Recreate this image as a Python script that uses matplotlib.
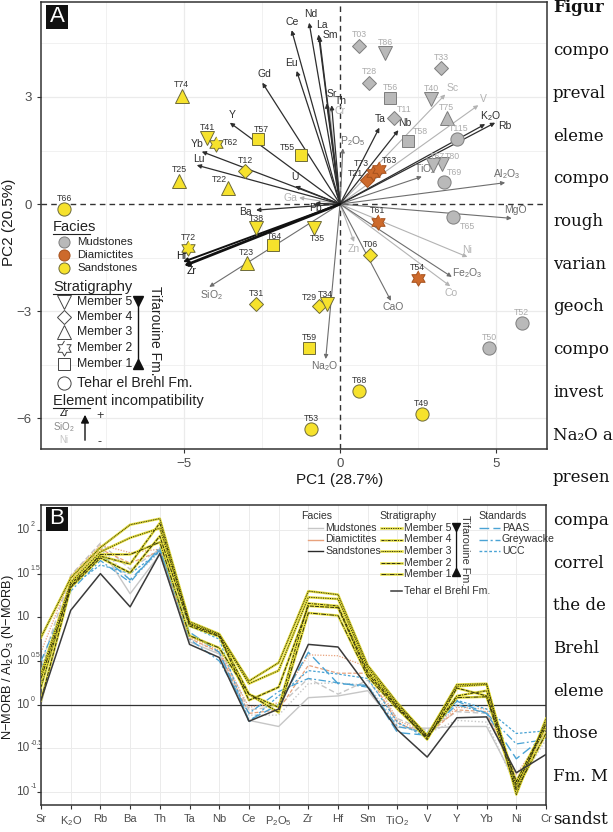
import numpy as np
import matplotlib
matplotlib.use('Agg')
import matplotlib.pyplot as plt
from matplotlib.lines import Line2D
from matplotlib.patches import Rectangle
import matplotlib.transforms as mtransforms

plt.rcParams['font.family'] = ['Liberation Sans', 'DejaVu Sans']
plt.rcParams['mathtext.fontset'] = 'custom'
plt.rcParams['mathtext.rm'] = 'Liberation Sans'
plt.rcParams['mathtext.it'] = 'Liberation Sans:italic'
plt.rcParams['mathtext.bf'] = 'Liberation Sans:bold'

# ---------------- DATA: panel A (PCA scores) ----------------
sample_names = ["T74", "T41", "T62", "T57", "T55", "T12", "T25", "T22", "T66", "T38", "T64",
                "T72", "T23", "T31", "T35", "T29", "T34", "T59", "T53", "T68", "T49", "T06",
                "T54", "T52", "T50", "T61", "T65", "T69", "T115", "T80", "T67", "T58", "T11",
                "T75", "T40", "T56", "T28", "T33", "T03", "T86", "T21", "T73", "T63"]
pc1 = [-5.07, -4.26, -3.97, -2.64, -1.26, -3.04, -5.15, -3.58, -8.84, -2.70, -2.14,
       -4.86, -2.99, -2.69, -0.85, -0.69, -0.41, -0.99, -0.93, 0.62, 2.62, 0.96,
       2.49, 5.82, 4.78, 1.20, 3.63, 3.33, 3.74, 3.26, 2.99, 2.19, 1.73,
       3.42, 2.92, 1.60, 0.93, 3.24, 0.61, 1.44, 0.86, 1.05, 1.26]
pc2 = [3.03, 1.85, 1.68, 1.81, 1.38, 0.92, 0.65, 0.46, -0.14, -0.68, -1.15,
       -1.24, -1.66, -2.80, -0.68, -2.86, -2.80, -4.04, -6.30, -5.24, -5.89, -1.43,
       -2.08, -3.34, -4.04, -0.50, -0.36, 0.61, 1.81, 1.11, 1.09, 1.77, 2.40,
       2.40, 2.93, 2.96, 3.40, 3.80, 4.43, 4.22, 0.67, 0.88, 0.97]
facies = ["S"] * 22 + ["D", "M", "M", "D", "M", "M", "M", "M", "M", "M", "M",
                       "M", "M", "M", "M", "M", "M", "M", "D", "D", "D"]
member = ["3", "5", "2", "1", "1", "4", "3", "3", "T", "5", "1",
          "2", "3", "4", "5", "4", "5", "1", "T", "T", "T", "4",
          "2", "T", "T", "2", "T", "T", "T", "5", "5", "1", "4",
          "3", "5", "1", "4", "4", "4", "5", "4", "2", "2"]

# loadings (arrow tips)
elements = ["Ce", "Nd", "La", "Sm", "Eu", "Gd", "Sr", "Th", "Cr", "P$_2$O$_5$", "Ta", "Nb",
            "Sc", "V", "K$_2$O", "Rb", "TiO$_2$", "Al$_2$O$_3$", "MgO", "Ga", "U", "Pb",
            "Ba", "Y", "Yb", "Lu", "Zr", "Hf", "SiO$_2$", "Zn", "Na$_2$O", "CaO", "Co",
            "Fe$_2$O$_3$", "Ni"]
load1 = [-1.55, -0.99, -0.69, -0.66, -1.39, -2.49, -0.43, -0.27, -0.34, 0.09, 1.26, 1.87,
         3.37, 4.43, 4.65, 4.97, 2.62, 5.29, 5.50, -1.31, -1.44, -0.80,
         -2.69, -3.53, -4.43, -4.59, -5.00, -5.03, -4.19, 0.45, -0.46, 1.63, 3.53,
         3.58, 4.08]
load2 = [4.87, 5.08, 4.75, 4.69, 3.73, 3.40, 2.82, 2.77, 2.71, 1.56, 2.14, 2.07,
         3.07, 2.77, 2.24, 2.28, 0.77, 0.60, -0.40, 0.18, 0.50, 0.02,
         -0.17, 2.28, 1.47, 1.09, -1.73, -1.62, -2.32, -1.06, -4.34, -2.71, -2.30,
         -2.04, -1.48]
# incompatibility class: 0 = most incompatible ... 3 = least
incompat = [1, 1, 1, 1, 1, 1, 1, 1, 3, 2, 1, 1,
            3, 3, 1, 1, 2, 2, 2, 3, 1, 1,
            1, 1, 1, 1, 0, 0, 2, 3, 2, 2, 3,
            2, 3]

# ---------------- DATA: panel B (spider diagram, log10 values) ----------------
spider_cats = ["Sr", "K$_2$O", "Rb", "Ba", "Th", "Ta", "Nb", "Ce", "P$_2$O$_5$", "Zr", "Hf",
               "Sm", "TiO$_2$", "V", "Y", "Yb", "Ni", "Cr"]
ytick_exp = [-1, -0.5, 0, 0.5, 1, 1.5, 2]
ytick_sup = ["-1", "-0.5", "0", "0.5", "", "1.5", "2"]
mud_1 = [0.00, 1.40, 1.80, 1.27, 1.72, 0.72, 0.58, -0.18, -0.25, 0.08, 0.10, 0.16, -0.26, -0.27, -0.25, -0.25, -0.90, -0.33]
mud_2 = [0.28, 1.45, 1.82, 1.42, 1.75, 0.75, 0.60, -0.12, -0.12, 0.24, 0.25, 0.22, -0.22, -0.33, -0.18, -0.20, -0.95, -0.40]
mud_3 = [0.45, 1.48, 1.85, 1.55, 1.78, 0.80, 0.65, -0.06, -0.02, 0.30, 0.12, 0.28, -0.16, -0.30, -0.08, -0.10, -0.86, -0.30]
dia_1 = [0.60, 1.47, 1.83, 1.74, 1.78, 0.78, 0.62, -0.03, 0.02, 0.57, 0.56, 0.43, -0.18, -0.33, -0.03, -0.05, -0.80, -0.30]
dia_2 = [0.35, 1.42, 1.78, 1.62, 1.76, 0.76, 0.60, -0.10, -0.06, 0.45, 0.36, 0.36, -0.21, -0.35, -0.06, -0.08, -0.86, -0.36]
sst_m3 = [0.77, 1.45, 1.80, 2.06, 2.13, 0.95, 0.81, 0.27, 0.48, 1.30, 1.26, 0.45, 0.02, -0.36, 0.23, 0.24, -1.03, -0.16]
sst_m5 = [0.35, 1.40, 1.75, 1.91, 2.02, 0.93, 0.80, 0.24, 0.39, 1.23, 1.21, 0.42, 0.00, -0.35, 0.21, 0.23, -0.95, -0.20]
sst_m4 = [0.20, 1.38, 1.70, 1.61, 2.08, 0.92, 0.79, 0.12, -0.03, 1.16, 1.13, 0.38, -0.02, -0.37, 0.10, 0.16, -0.92, -0.25]
sst_m2 = [0.05, 1.34, 1.68, 1.51, 1.93, 0.90, 0.78, 0.05, 0.20, 1.13, 1.11, 0.35, -0.03, -0.40, 0.19, 0.10, -0.88, -0.22]
sst_m1 = [0.30, 1.35, 1.72, 1.72, 1.86, 0.79, 0.65, 0.12, -0.09, 1.05, 1.02, 0.32, -0.05, -0.38, 0.08, 0.09, -0.98, -0.33]
tehar = [0.05, 1.08, 1.50, 1.12, 1.73, 0.69, 0.54, -0.19, -0.05, 0.69, 0.66, 0.20, -0.29, -0.60, -0.15, -0.14, -0.78, -0.57]
paas = [0.20, 1.35, 1.72, 1.43, 1.77, 0.83, 0.60, -0.18, 0.00, 0.60, 0.24, 0.22, -0.32, -0.35, 0.04, -0.10, -0.62, -0.35]
greywacke = [0.50, 1.30, 1.65, 1.40, 1.80, 0.75, 0.50, -0.10, 0.15, 0.30, 0.25, 0.20, -0.25, -0.32, 0.00, -0.10, -0.45, -0.40]
ucc = [0.40, 1.35, 1.60, 1.50, 1.75, 0.90, 0.75, -0.20, 0.10, 0.39, 0.35, 0.30, -0.20, -0.38, 0.05, -0.05, -0.33, -0.30]

right_text = ["Figur", "compo", "preval", "eleme", "compo", "rough", "varian", "geoch", "compo",
              "invest", "Na\u2082O a", "presen", "compa", "correl", "the de", "Brehl", "eleme",
              "those", "Fm. M", "sandst"]

# ---------------- STYLE ----------------
W, H = 613, 832
fig = plt.figure(figsize=(W / 100, H / 100), dpi=100)


def fx(px):
    return px / W


def fy(py):
    return 1 - py / H


ang_o = np.deg2rad(90 + 60 * np.arange(6))
ang_i = np.deg2rad(120 + 60 * np.arange(6))
HEX = []
for a, b in zip(ang_o, ang_i):
    HEX.append((np.cos(a), np.sin(a)))
    HEX.append((np.cos(b) / np.sqrt(3), np.sin(b) / np.sqrt(3)))

mk = {"5": "v", "4": "D", "3": "^", "2": HEX, "1": "s", "T": "o"}
mk_size = {"5": 9.5, "4": 7.0, "3": 9.5, "2": 11, "1": 8.5, "T": 9.5}
leg_size = {"5": 9.5, "4": 7.5, "3": 9.5, "2": 11, "1": 8.5}
fcol = {"M": "#b9b9b9", "D": "#cd6a2c", "S": "#f6e22c"}
ecol = {"M": "#7d7d7d", "D": "#a6521e", "S": "#6d6a3a"}
lcol = {"M": "#ababab", "D": "#333333", "S": "#333333"}
label_off = {"T62": (14, 2), "T55": (-13, 7), "T35": (4, -10), "T65": (14, -10), "T69": (10, 10),
             "T115": (2, 11), "T58": (12, 9), "T80": (11, 8), "T67": (4, 9), "T11": (10, 9),
             "T73": (-11, 9), "T21": (-11, 7), "T63": (10, 9), "T29": (-9, 9), "T34": (-2, 10),
             "T22": (-9, 8), "T57": (4, 10), "T64": (1, 9), "T38": (1, 10)}
inc_col = {0: "#111111", 1: "#2e2e2e", 2: "#6e6e6e", 3: "#b3b3b3"}
inc_lw = {0: 1.0, 1: 0.9, 2: 0.8, 3: 0.8}
elem_off = [(1, 8), (2, 9), (3, 9), (11, 2), (-5, 8), (2, 9), (5, 9), (9, 4), (11, -4), (10, 7), (1, 9), (6, 7),
            (7, 6), (5, 6), (5, 8), (10, -3), (3, 7), (2, 9), (4, 8), (-9, 0), (0, 9), (0, -5),
            (-11, -2), (2, 8), (-5, 8), (2, 6), (8, -5), (-2, 6), (2, -8), (0, -7), (-1, -7), (2, -6), (1, -7),
            (15, 4), (0, 7)]

grid_c = "#ebebeb"
tick_c = "#4d4d4d"

# ================= PANEL A =================
axA = fig.add_axes([fx(41), fy(449), fx(547) - fx(41), fy(2) - fy(449)])
axA.set_xlim(-9.58, 6.63)
axA.set_ylim(-6.86, 5.66)
for v in [-7.5, -2.5, 2.5]:
    axA.axvline(v, color=grid_c, lw=0.5, zorder=0)
for v in [-5, 5]:
    axA.axvline(v, color=grid_c, lw=0.9, zorder=0)
for v in [-4.5, -1.5, 1.5, 4.5]:
    axA.axhline(v, color=grid_c, lw=0.5, zorder=0)
for v in [-6, -3, 3]:
    axA.axhline(v, color=grid_c, lw=0.9, zorder=0)
axA.axvline(0, color="#333333", lw=1.0, ls=(0, (4, 3)), zorder=1)
axA.axhline(0, color="#333333", lw=1.0, ls=(0, (4, 3)), zorder=1)

# arrows
order = sorted(range(len(elements)), key=lambda i: -incompat[i])
for i in order:
    c = inc_col[incompat[i]]
    lw = inc_lw[incompat[i]]
    if elements[i] == "Zr":
        lw = 2.0
    elif elements[i] == "Hf":
        lw = 1.4
    axA.annotate("", xy=(load1[i], load2[i]), xytext=(0, 0),
                 arrowprops=dict(arrowstyle="-|>", color=c, lw=lw, mutation_scale=6,
                                 shrinkA=0, shrinkB=0), zorder=2)
    axA.annotate(elements[i], xy=(load1[i], load2[i]), xytext=elem_off[i],
                 textcoords="offset pixels", ha="center", va="center", fontsize=7.5,
                 color=c, zorder=3)

# points
for i, nm in enumerate(sample_names):
    f = facies[i]
    m = member[i]
    axA.plot(pc1[i], pc2[i], marker=mk[m], ms=mk_size[m], mfc=fcol[f], mec=ecol[f],
             mew=0.7, ls="none", zorder=4)
    off = label_off.get(nm, (0, 11))
    axA.annotate(nm, xy=(pc1[i], pc2[i]), xytext=off, textcoords="offset pixels",
                 ha="center", va="center", fontsize=6.3, color=lcol[f], zorder=5)

axA.set_xticks([-5, 0, 5])
axA.set_xticklabels(["\u22125", "0", "5"])
axA.set_yticks([-6, -3, 0, 3])
axA.set_yticklabels(["\u22126", "\u22123", "0", "3"])
axA.tick_params(labelsize=9.5, labelcolor=tick_c, color="#333333", length=3, width=0.8)
for s in axA.spines.values():
    s.set_color("#333333")
    s.set_linewidth(1.1)

fig.text(fx(340), fy(480), "PC1 (28.7%)", ha="center", va="center", fontsize=11, color="#1a1a1a")
fig.text(fx(9), fy(222), "PC2 (20.5%)", ha="center", va="center", fontsize=11, rotation=90,
         color="#1a1a1a")

# panel label A
fig.add_artist(Rectangle((fx(46), fy(29)), fx(22), 24 / H, facecolor="#111111", edgecolor="none",
                         transform=fig.transFigure))
fig.text(fx(57), fy(17), "A", color="white", fontsize=16, ha="center", va="center")


# legend A
def under(text, x, y, size, x2):
    fig.text(fx(x), fy(y), text, fontsize=size, ha="left", va="center", color="#222222")
    fig.add_artist(Line2D([fx(x), fx(x2)], [fy(y + 7), fy(y + 7)], color="#222222", lw=0.8,
                          transform=fig.transFigure))


under("Facies", 53, 227, 10.5, 90)
for yy, f, t in [(242, "M", "Mudstones"), (255, "D", "Diamictites"), (268, "S", "Sandstones")]:
    fig.add_artist(Line2D([fx(64)], [fy(yy)], marker="o", ms=8, mfc=fcol[f], mec=ecol[f], mew=0.7,
                          ls="none", transform=fig.transFigure))
    fig.text(fx(77), fy(yy), t, fontsize=8.2, ha="left", va="center", color="#222222")
under("Stratigraphy", 53, 287, 10.5, 121)
for yy, m, t in [(302, "5", "Member 5"), (317, "4", "Member 4"), (332, "3", "Member 3"),
                 (348, "2", "Member 2"), (364, "1", "Member 1")]:
    fig.add_artist(Line2D([fx(64)], [fy(yy)], marker=mk[m], ms=leg_size[m], mfc="white",
                          mec="#444444", mew=0.7, ls="none", transform=fig.transFigure))
    fig.text(fx(77), fy(yy), t, fontsize=8.8, ha="left", va="center", color="#222222")
fig.add_artist(Line2D([fx(64)], [fy(383)], marker="o", ms=9.5, mfc="white", mec="#444444", mew=0.7,
                      ls="none", transform=fig.transFigure))
fig.text(fx(77), fy(383), "Tehar el Brehl Fm.", fontsize=10.2, ha="left", va="center", color="#222222")
fig.add_artist(Line2D([fx(138), fx(138)], [fy(300), fy(365)], color="#111111", lw=1.0,
                      transform=fig.transFigure))
fig.add_artist(Line2D([fx(138)], [fy(301)], marker="v", ms=7, color="#111111", ls="none",
                      transform=fig.transFigure))
fig.add_artist(Line2D([fx(138)], [fy(364)], marker="^", ms=7, color="#111111", ls="none",
                      transform=fig.transFigure))
fig.text(fx(155), fy(331), "Tifarouine Fm.", rotation=270, fontsize=10, ha="center", va="center",
         color="#222222")
fig.text(fx(53), fy(401), "Element incompatibility", fontsize=10.5, ha="left", va="center", color="#222222")
fig.add_artist(Line2D([fx(53), fx(90)], [fy(408), fy(408)], color="#222222", lw=0.8,
                      transform=fig.transFigure))
fig.text(fx(64), fy(413), "Zr", fontsize=7, ha="center", va="center", color="#111111")
fig.text(fx(64), fy(427), "SiO$_2$", fontsize=7, ha="center", va="center", color="#8a8a8a")
fig.text(fx(64), fy(440), "Ni", fontsize=7, ha="center", va="center", color="#c4c4c4")
fig.add_artist(matplotlib.patches.FancyArrowPatch((fx(85), fy(443)), (fx(85), fy(412)),
                                                  transform=fig.transFigure, arrowstyle="-|>",
                                                  mutation_scale=12, color="#111111", lw=1.0))
fig.text(fx(100), fy(416), "+", fontsize=9, ha="center", va="center", color="#333333")
fig.text(fx(100), fy(442), "-", fontsize=9, ha="center", va="center", color="#333333")

# ================= PANEL B =================
axB = fig.add_axes([fx(41), fy(805), fx(546) - fx(41), fy(505) - fy(805)])
axB.set_yscale("log")
xs = np.arange(len(spider_cats))
axB.set_xlim(0, 17)
axB.set_ylim(10 ** -1.149, 10 ** 2.286)
for xv in xs:
    axB.axvline(xv, color=grid_c, lw=0.7, zorder=0)
for e in [-1, -0.5, 0.5, 1, 1.5, 2]:
    axB.axhline(10 ** e, color=grid_c, lw=0.7, zorder=0)
axB.axhline(1.0, color="#333333", lw=0.9, zorder=1)


def pl(vals, **kw):
    axB.plot(xs, 10 ** np.array(vals), **kw)


mud_ls = ["-", (0, (1, 1.5)), (0, (4, 2))]
for v, ls in zip([mud_1, mud_2, mud_3], mud_ls):
    pl(v, color="#c6c6c6", lw=1.0, ls=ls, zorder=2)
for v, ls in zip([dia_1, dia_2], [(0, (1, 1.2)), (0, (3, 1.5))]):
    pl(v, color="#e8a27c", lw=0.9, ls=ls, zorder=2)
std_ls = {"PAAS": (0, (7, 3)), "Greywacke": (0, (6, 2, 1.5, 2)), "UCC": (0, (2, 1.5))}
pl(paas, color="#4aa3d4", lw=1.0, ls=std_ls["PAAS"], zorder=3)
pl(greywacke, color="#4aa3d4", lw=0.9, ls=std_ls["Greywacke"], zorder=3)
pl(ucc, color="#4aa3d4", lw=0.9, ls=std_ls["UCC"], zorder=3)
mem_ls = {"5": (0, (1.2, 1.2)), "4": (0, (3, 1.2, 1, 1.2)), "3": (0, (1, 0.8)),
          "2": (0, (4, 1.2)), "1": (0, (5, 1.2, 1, 1.2))}
for v, m in zip([sst_m3, sst_m5, sst_m4, sst_m2, sst_m1], ["3", "5", "4", "2", "1"]):
    pl(v, color="#e4dc2c", lw=1.8, ls="-", zorder=4, alpha=0.9)
    pl(v, color="#303010", lw=0.7, ls=mem_ls[m], zorder=5)
pl(tehar, color="#3a3a3a", lw=1.1, ls="-", zorder=5)

axB.set_xticks(xs)
axB.set_xticklabels(spider_cats)
axB.set_yticks([10 ** e for e in ytick_exp])
axB.set_yticklabels([""] * len(ytick_exp))
axB.yaxis.set_minor_locator(matplotlib.ticker.NullLocator())
axB.tick_params(axis="x", labelsize=8, labelcolor=tick_c, color="#333333", length=3, width=0.8)
axB.tick_params(axis="y", color="#333333", length=3, width=0.8)
ytr = mtransforms.blended_transform_factory(axB.transAxes, axB.transData)
xa = (29.5 - 41) / (546 - 41)
for e, sup in zip(ytick_exp, ytick_sup):
    axB.text(xa, 10 ** e, "10", transform=ytr, ha="right", va="center", fontsize=8.5,
             color=tick_c, clip_on=False)
    if sup:
        axB.annotate(sup, xy=(xa, 10 ** e), xycoords=ytr, xytext=(1, 5),
                     textcoords="offset pixels", ha="left", va="center", fontsize=5,
                     color=tick_c, annotation_clip=False)
for s in axB.spines.values():
    s.set_color("#333333")
    s.set_linewidth(1.1)
fig.text(fx(8), fy(657), "N\u2212MORB / Al$_2$O$_3$ (N\u2212MORB)", rotation=90, fontsize=9.2,
         ha="center", va="center", color="#1a1a1a")

fig.add_artist(Rectangle((fx(46), fy(531)), fx(22), 24 / H, facecolor="#111111", edgecolor="none",
                         transform=fig.transFigure))
fig.text(fx(57), fy(519), "B", color="white", fontsize=16, ha="center", va="center")


# legend B
def lline(x1, x2, y, **kw):
    fig.add_artist(Line2D([fx(x1), fx(x2)], [fy(y), fy(y)], transform=fig.transFigure, **kw))


def ltext(x, y, t, ha="left", size=7.6):
    fig.text(fx(x), fy(y), t, fontsize=size, ha=ha, va="center", color="#333333")


ltext(317, 516, "Facies", ha="center")
for yy, c, lw, t in [(528, "#c6c6c6", 1.0, "Mudstones"), (539.5, "#e8a27c", 1.0, "Diamictites"),
                     (551, "#2a2a2a", 1.0, "Sandstones")]:
    lline(308, 323, yy, color=c, lw=lw)
    ltext(325, yy, t)
ltext(408, 516, "Stratigraphy", ha="center")
for yy, m, t in [(528, "5", "Member 5"), (539.5, "4", "Member 4"), (551, "3", "Member 3"),
                 (562.5, "2", "Member 2"), (574, "1", "Member 1")]:
    lline(381, 402, yy, color="#e4dc2c", lw=1.8, alpha=0.9)
    lline(381, 402, yy, color="#303010", lw=0.7, ls=mem_ls[m])
    ltext(404, yy, t)
fig.add_artist(Line2D([fx(456), fx(456)], [fy(526), fy(573)], color="#111111", lw=0.9,
                      transform=fig.transFigure))
fig.add_artist(Line2D([fx(456)], [fy(527)], marker="v", ms=5.5, color="#111111", ls="none",
                      transform=fig.transFigure))
fig.add_artist(Line2D([fx(456)], [fy(572)], marker="^", ms=5.5, color="#111111", ls="none",
                      transform=fig.transFigure))
fig.text(fx(465), fy(550), "Tifarouine Fm.", rotation=270, fontsize=7.8, ha="center", va="center",
         color="#333333")
lline(391, 402, 591, color="#3a3a3a", lw=1.1)
ltext(404, 591, "Tehar el Brehl Fm.")
ltext(503, 516, "Standards", ha="center")
for yy, k in [(528, "PAAS"), (539.5, "Greywacke"), (551, "UCC")]:
    lline(479, 500, yy, color="#4aa3d4", lw=1.0, ls=std_ls[k])
    ltext(502, yy, k)

# ================= right column page text =================
for i, t in enumerate(right_text):
    fig.text(fx(553), fy(8 + 42.7 * i), t, fontsize=12, family=["DejaVu Serif"],
             ha="left", va="center", color="#111111",
             fontweight="bold" if i == 0 else "normal")

fig.savefig("out.png", dpi=100)
